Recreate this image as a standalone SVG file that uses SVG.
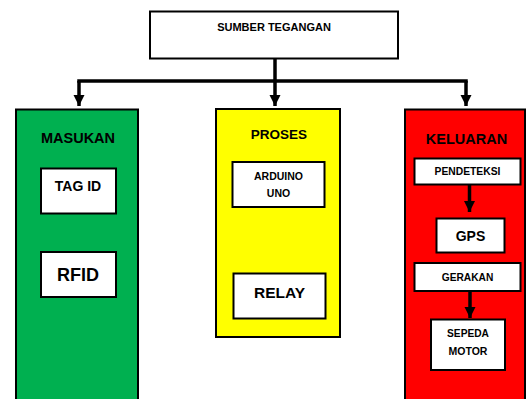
<svg xmlns="http://www.w3.org/2000/svg" width="528" height="399" viewBox="0 0 528 399">
<style>
rect{stroke:#000;stroke-width:2}
.w{fill:#fff}
text{font-family:"Liberation Sans",Arial,sans-serif;font-weight:bold;fill:#000;text-anchor:middle}
.c{fill:none;stroke:#000;stroke-width:3.5}
</style>
<defs>
<marker id="ah" markerUnits="userSpaceOnUse" markerWidth="12" markerHeight="12" refX="11" refY="6" orient="auto">
<path d="M0,0.5 L11,6 L0,11.5 Z" fill="#000"/>
</marker>
</defs>
<rect width="528" height="399" fill="#fff" style="stroke:none"/>
<g id="sumber">
<rect class="w" x="150" y="11.5" width="248" height="47"/>
<text x="274" y="31" font-size="11">SUMBER TEGANGAN</text>
</g>
<g id="masukan">
<rect x="16" y="109.5" width="122" height="300" fill="#00B050"/>
<text x="78" y="143" font-size="14.5">MASUKAN</text>
</g>
<g id="tagid">
<rect class="w" x="41" y="168.5" width="75" height="45"/>
<text x="78" y="191" font-size="14">TAG ID</text>
</g>
<g id="rfid">
<rect class="w" x="41" y="252" width="75" height="45"/>
<text x="78" y="280.5" font-size="18">RFID</text>
</g>
<g id="proses">
<rect x="216" y="109" width="124" height="228" fill="#FFFF00"/>
<text x="279" y="138.5" font-size="13.5">PROSES</text>
</g>
<g id="arduino">
<rect class="w" x="232.5" y="162" width="92" height="45"/>
<text x="278.5" y="179.5" font-size="10.5">ARDUINO</text>
<text x="278.5" y="197" font-size="10.5">UNO</text>
</g>
<g id="relay">
<rect class="w" x="233.5" y="273.5" width="92" height="45"/>
<text x="279.5" y="298" font-size="15.5">RELAY</text>
</g>
<g id="keluaran">
<rect x="405" y="109.5" width="120" height="300" fill="#FF0000"/>
<text x="466.5" y="143.5" font-size="14.5">KELUARAN</text>
</g>
<g id="pendeteksi">
<rect class="w" x="414.5" y="158.5" width="106" height="26"/>
<text x="467.5" y="175" font-size="10.3">PENDETEKSI</text>
</g>
<g id="gps">
<rect class="w" x="436.5" y="218.5" width="68" height="34"/>
<text x="470.5" y="240.5" font-size="14">GPS</text>
</g>
<g id="gerakan">
<rect class="w" x="414.5" y="263" width="106" height="28"/>
<text x="467.5" y="280.5" font-size="10.2">GERAKAN</text>
</g>
<g id="sepeda">
<rect class="w" x="431" y="319.5" width="74" height="50.5"/>
<text x="468" y="337" font-size="10.2">SEPEDA</text>
<text x="468" y="354.5" font-size="10.5">MOTOR</text>
</g>
<g id="connectors">
<path class="c" d="M275,59 V81"/>
<path class="c" d="M77.25,81 H467.75"/>
<path class="c" d="M79,81 V106" marker-end="url(#ah)"/>
<path class="c" d="M275,81 V106" marker-end="url(#ah)"/>
<path class="c" d="M466,81 V106" marker-end="url(#ah)"/>
<path class="c" d="M469.5,185 V212" marker-end="url(#ah)"/>
<path class="c" d="M470,292 V318" marker-end="url(#ah)"/>
</g>
</svg>
